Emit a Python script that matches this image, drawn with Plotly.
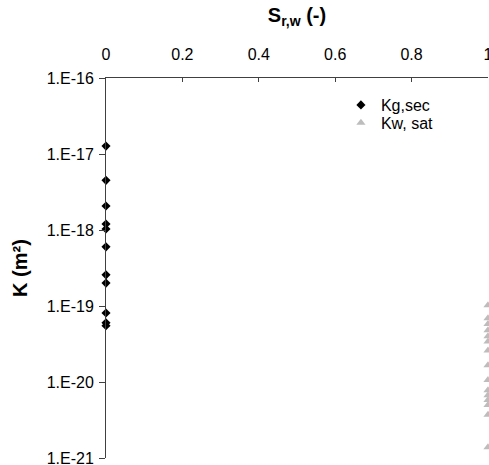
import plotly.graph_objects as go

kg_sec_x = [0]*11
kg_sec_k = [1.27e-17, 4.5e-18, 2.07e-18, 1.2e-18, 1.03e-18, 6.0e-19, 2.57e-19, 2.0e-19, 8.1e-20, 6.0e-20, 5.5e-20]
kw_sat_x = [1]*15
kw_sat_k = [1.02e-19, 6.9e-20, 5.8e-20, 4.8e-20, 4.0e-20, 3.4e-20, 2.6e-20, 1.66e-20, 1.06e-20,
            7.8e-21, 6.7e-21, 5.8e-21, 5.0e-21, 3.7e-21, 1.39e-21]
y_tickvals = [1e-16, 1e-17, 1e-18, 1e-19, 1e-20, 1e-21]
y_ticktext = ["1.E-16", "1.E-17", "1.E-18", "1.E-19", "1.E-20", "1.E-21"]
x_tickvals = [0, 0.2, 0.4, 0.6, 0.8, 1]
x_ticktext = ["0", "0.2", "0.4", "0.6", "0.8", "1"]

fig = go.Figure()
fig.add_trace(go.Scatter(x=kg_sec_x, y=kg_sec_k, mode="markers", name="Kg,sec", legend="legend",
                         marker=dict(symbol="diamond", size=7, color="black"), cliponaxis=False))
fig.add_trace(go.Scatter(x=kw_sat_x, y=kw_sat_k, mode="markers", name="Kw, sat", legend="legend2",
                         marker=dict(symbol="triangle-up", size=8, color="#bdbdbd"), cliponaxis=False))

fam = "Liberation Sans, Arial"
leg_common = dict(xanchor="left", yanchor="middle", bgcolor="rgba(0,0,0,0)",
                  font=dict(family=fam, size=16), tracegroupgap=0, itemwidth=30)
fig.update_layout(
    width=489, height=465,
    margin=dict(l=106, r=1, t=78, b=7),
    paper_bgcolor="white", plot_bgcolor="white",
    font=dict(family=fam, size=16, color="black"),
    showlegend=True,
    legend=dict(x=0.615, y=0.929, **leg_common),
    legend2=dict(x=0.615, y=0.882, **leg_common),
    xaxis=dict(side="top", range=[0, 1], tickvals=x_tickvals, ticktext=x_ticktext,
               ticks="inside", ticklen=4, tickcolor="#404040", showline=True, linecolor="#404040",
               linewidth=1, showgrid=False, zeroline=False, mirror=False, ticklabeloverflow="allow",
               automargin=False, ticklabelstandoff=11,
               title=dict(text="<b>S<sub>r,w</sub> (-)</b>", font=dict(size=20), standoff=17)),
    yaxis=dict(type="log", range=[-21, -16], tickvals=y_tickvals, ticktext=y_ticktext,
               ticks="outside", ticklen=6, tickcolor="#404040", showline=True, linecolor="#404040",
               linewidth=1, showgrid=False, zeroline=False, ticklabeloverflow="allow",
               automargin=False, ticklabelstandoff=2,
               title=dict(text="<b>K (m²)</b>", font=dict(size=20), standoff=13)),
)
fig.write_html("out.html")
